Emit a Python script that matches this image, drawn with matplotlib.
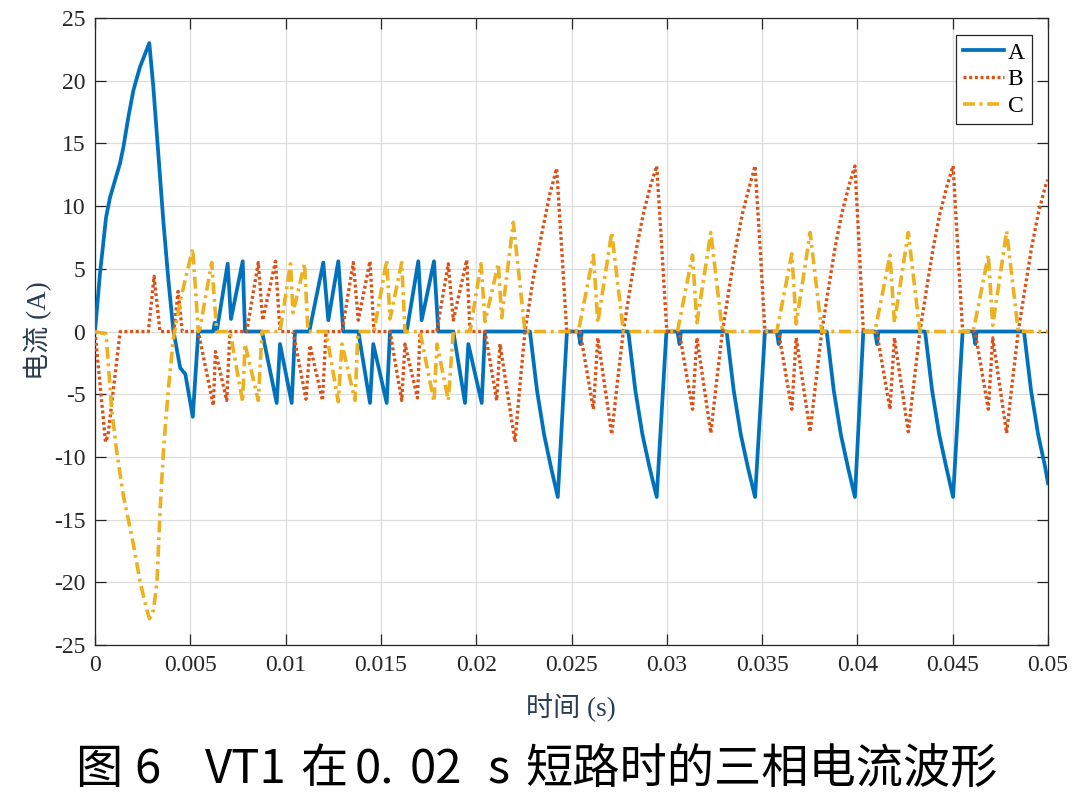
import numpy as np
import matplotlib
matplotlib.use("Agg")
import matplotlib.pyplot as plt

plt.rcParams["axes.unicode_minus"] = False

# ---------------- data (time in ms, current in A) ----------------
A_t = [0, 0.26, 0.58, 0.79, 1.31, 1.49, 1.75, 2.01, 2.36, 2.85, 3.06, 3.32, 3.58, 3.85, 4.11,
       4.47, 4.74, 5.13, 5.42, 6.20, 6.28, 6.385,
       6.962, 7.135, 7.749, 7.870,
       8.762, 9.533, 9.706, 10.320, 10.493,
       11.243, 11.978, 12.240, 12.765, 13.027,
       13.814, 14.428, 14.601, 15.304, 15.477,
       16.354, 16.962, 17.140, 17.786, 18.012,
       18.799, 19.413, 19.586, 20.289, 20.462,
       22.82, 23.19, 23.56, 23.92, 24.28, 24.76,
       25.36, 25.47, 25.54, 27.98, 28.35, 28.72, 29.09, 29.47, 29.98,
       30.56, 30.67, 30.74, 33.14, 33.51, 33.88, 34.25, 34.63, 35.15,
       35.77, 35.87, 35.95, 38.39, 38.76, 39.13, 39.50, 39.87, 40.31,
       40.92, 41.03, 41.10, 43.55, 43.92, 44.29, 44.66, 45.02, 45.52,
       46.08, 46.19, 46.26, 48.74, 49.11, 49.48, 49.85, 50.0]
A_v = [0, 4.6, 9.1, 10.7, 13.4, 14.7, 17.1, 19.2, 21.1, 23.0, 19.5, 14.2, 8.9, 4.1, 0.1,
       -2.9, -3.4, -6.8, 0, 0, 0.7, 0,
       5.4, 1.0, 5.6, 0,
       0, -5.7, -1.0, -5.7, 0,
       0, 5.5, 0.9, 5.6, 0,
       0, -5.7, -1.0, -5.7, 0,
       0, 5.6, 0.9, 5.6, 0,
       0, -5.7, -1.0, -5.7, 0,
       0, -4.7, -8.2, -10.8, -13.2, 0,
       0, -1.0, 0, 0, -4.7, -8.2, -10.8, -13.2, 0,
       0, -1.0, 0, 0, -4.7, -8.2, -10.8, -13.2, 0,
       0, -1.0, 0, 0, -4.7, -8.2, -10.8, -13.2, 0,
       0, -1.0, 0, 0, -4.7, -8.2, -10.8, -13.2, 0,
       0, -1.0, 0, 0, -4.7, -8.2, -10.8, -12.1]

B_t = [0, 0.55, 0.68, 1.32, 2.80, 3.10, 3.41, 4.14, 4.36, 4.58,
       5.420, 6.207, 6.322, 6.910, 7.083,
       7.959, 8.568, 8.799, 9.470, 9.706,
       10.388, 11.070, 11.280, 11.936, 12.120,
       12.959, 13.552, 13.814, 14.428, 14.638,
       15.477, 16.091, 16.264, 16.920, 17.051,
       17.93, 18.536, 18.799, 19.502, 19.675,
       20.462, 21.076, 21.249, 22.036, 22.30, 22.56, 23.0, 23.44, 23.87, 24.22, 24.49, 24.75,
       25.45, 26.15, 26.38, 27.11, 27.41, 27.72, 28.09, 28.42, 28.77, 29.14, 29.47, 29.74, 30.00,
       30.65, 31.35, 31.58, 32.31, 32.61, 32.92, 33.29, 33.62, 33.97, 34.34, 34.63, 34.90, 35.15,
       35.86, 36.56, 36.79, 37.52, 37.82, 38.13, 38.50, 38.83, 39.18, 39.55, 39.87, 40.10, 40.31,
       41.01, 41.71, 41.94, 42.67, 42.97, 43.28, 43.65, 43.98, 44.33, 44.70, 45.02, 45.27, 45.52,
       46.17, 46.87, 47.10, 47.83, 48.13, 48.44, 48.81, 49.14, 49.49, 49.86, 50.0]
B_v = [0, -8.8, -8.3, 0, 0, 4.4, 0, 0, 3.2, 0,
       0, -5.9, -1.6, -5.5, 0,
       0, 5.5, 0.9, 5.6, 0,
       0, -5.4, -1.1, -5.5, 0,
       0, 5.5, 0.9, 5.6, 0,
       0, -5.5, -1.0, -5.3, 0,
       0, 5.4, 0.9, 5.7, 0,
       0, -5.5, -1.0, -8.8, -4.2, 0, 4.3, 7.8, 11.0, 13.0, 6.5, 0,
       0, -6.2, -0.5, -8.2, -4.0, 0, 3.6, 6.7, 9.4, 11.6, 13.2, 6.6, 0,
       0, -6.2, -0.5, -8.1, -4.0, 0, 3.6, 6.7, 9.4, 11.6, 13.2, 6.6, 0,
       0, -6.2, -0.5, -8.0, -4.0, 0, 3.6, 6.7, 9.4, 11.6, 13.2, 6.6, 0,
       0, -6.2, -0.5, -8.0, -4.0, 0, 3.6, 6.7, 9.4, 11.6, 13.2, 6.6, 0,
       0, -6.2, -0.5, -8.1, -4.0, 0, 3.6, 6.7, 9.4, 11.6, 12.1]

C_t = [0, 0.58, 0.88, 1.14, 1.49, 2.02, 2.37, 2.72, 2.86, 3.07, 3.25, 3.42, 3.60, 3.86, 4.12,
       4.47, 4.82, 5.13, 5.42, 5.50, 6.123, 6.385,
       7.083, 7.749, 7.870, 8.568, 8.762,
       9.706, 10.257, 10.388, 10.992, 11.175,
       12.120, 12.765, 12.959, 13.641, 13.799,
       14.638, 15.304, 15.477, 16.091, 16.264,
       17.051, 17.786, 17.943, 18.536, 18.799,
       19.675, 20.252, 20.462, 21.160, 21.338, 21.947, 22.560,
       25.36, 26.15, 26.38, 27.11, 27.72,
       30.56, 31.35, 31.58, 32.31, 32.92,
       35.77, 36.56, 36.79, 37.52, 38.13,
       40.92, 41.71, 41.94, 42.67, 43.28,
       46.08, 46.87, 47.10, 47.83, 48.44, 50.0]
C_v = [0, -0.2, -6.3, -9.6, -13.1, -17.0, -20.0, -22.2, -22.9, -22.2, -20.0, -14.1, -9.3, -4.4, -0.5,
       2.4, 4.7, 6.6, 0, 0.2, 5.5, 0,
       0, -5.6, -1.0, -5.5, 0,
       0, 5.4, 1.5, 5.4, 0,
       0, -5.6, -1.0, -5.5, 0,
       0, 5.7, 1.0, 5.5, 0,
       0, -5.6, -1.0, -5.5, 0,
       0, 5.4, 0.8, 5.4, 1.1, 8.7, 0,
       0, 6.1, 0.7, 7.9, 0,
       0, 6.1, 0.7, 7.9, 0,
       0, 6.2, 0.6, 7.9, 0,
       0, 6.1, 0.7, 7.9, 0,
       0, 6.1, 0.5, 8.0, 0, 0]

series_names = ["A", "B", "C"]
x_ticks = [0, 0.005, 0.01, 0.015, 0.02, 0.025, 0.03, 0.035, 0.04, 0.045, 0.05]
x_tick_labels = ["0", "0.005", "0.01", "0.015", "0.02", "0.025", "0.03", "0.035", "0.04", "0.045", "0.05"]
y_ticks = [-25, -20, -15, -10, -5, 0, 5, 10, 15, 20, 25]
title_parts = ["图", "6", "VT1", "在", "0.", "02", "s", "短路时的三相电流波形"]
title_x = [75, 134, 205, 300, 355, 410, 488, 525]

assert len(A_t) == len(A_v) and len(B_t) == len(B_v) and len(C_t) == len(C_v)

# ---------------- figure ----------------
W, H, DPI = 1079, 800, 100
fig = plt.figure(figsize=(W / DPI, H / DPI), dpi=DPI)
ax = fig.add_axes([95 / W, 1 - 645 / H, (1048 - 95) / W, (645 - 18) / H])

blue, red, yellow = "#0072BD", "#D95319", "#EDB120"
ms = lambda arr: np.asarray(arr) / 1000.0

ax.plot(ms(A_t), A_v, color=blue, lw=2.7, label=series_names[0], zorder=3)
ax.plot(ms(B_t), B_v, color=red, lw=2.4, linestyle=(0, (0.9, 0.8)), label=series_names[1], zorder=4)
ax.plot(ms(C_t), C_v, color=yellow, lw=2.6, linestyle=(0, (3.3, 1.3, 0.8, 1.3)), label=series_names[2], zorder=5)

ax.set_xlim(0, 0.05)
ax.set_ylim(-25, 25)
ax.set_xticks(x_ticks)
ax.set_xticklabels(x_tick_labels)
ax.set_yticks(y_ticks)

axcol = "#262626"
ax.grid(True, color="#dcdcdc", lw=0.9)
ax.set_axisbelow(True)
for s in ax.spines.values():
    s.set_color(axcol)
    s.set_linewidth(0.9)
ax.tick_params(direction="in", length=8, width=0.9, colors=axcol, top=True, right=True,
               labelsize=17, pad=7)
for lab in ax.get_xticklabels() + ax.get_yticklabels():
    lab.set_fontfamily("Liberation Serif")

leg = ax.legend(loc="upper right", bbox_to_anchor=(0.983, 0.973), borderaxespad=0,
                prop={"family": "Liberation Serif", "size": 17}, frameon=True, fancybox=False,
                handlelength=1.75, handletextpad=0.15, labelspacing=0.22, borderpad=0.3)
leg.get_frame().set_edgecolor(axcol)
leg.get_frame().set_linewidth(0.9)
leg.get_frame().set_alpha(1)

lab_fam = ["Liberation Serif", "Noto Sans CJK SC"]
lab_col = "#2a3d52"
fig.text(571 / W, 1 - 708 / H, "时间 (s)", ha="center", va="center", fontsize=19.5,
         family=lab_fam, color=lab_col)
fig.text(38 / W, 1 - 331 / H, "电流 (A)", ha="center", va="center", fontsize=19.5,
         family=lab_fam, color=lab_col, rotation=90)

for part, px in zip(title_parts, title_x):
    fig.text(px / W, 1 - 770 / H, part, ha="left", va="center",
             fontsize=34, family=["Noto Sans CJK SC", "DejaVu Sans"], color="black")

fig.savefig("out.png", dpi=DPI)
